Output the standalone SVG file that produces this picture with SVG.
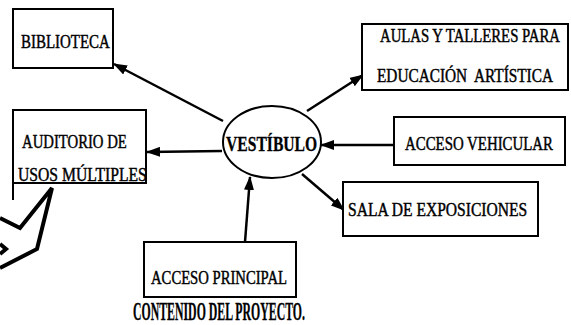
<svg xmlns="http://www.w3.org/2000/svg" width="571" height="325" viewBox="0 0 571 325">
<defs>
<marker id="ah" viewBox="0 0 14 10" refX="13" refY="5" markerWidth="14" markerHeight="10" markerUnits="userSpaceOnUse" orient="auto">
<path d="M0,0 L14,5 L0,10 Z" fill="#000"/>
</marker>
</defs>
<style>
.box{fill:#fff;stroke:#000;stroke-width:2}
.lbl{font-family:"Liberation Serif","Times New Roman",serif;font-size:19px;fill:#000;stroke:#000;stroke-width:0.45}
.vest{font-weight:bold;font-size:21px;stroke-width:0.3}
.title{font-weight:bold;font-size:25px;stroke-width:0.3}
.con{fill:none;stroke:#000;stroke-width:2.5}
.deco{fill:none;stroke:#000;stroke-width:4;stroke-linejoin:miter}
</style>
<rect width="571" height="325" fill="#fff"/>
<g id="connectors">
<line class="con" x1="223" y1="121" x2="114" y2="64" marker-end="url(#ah)"/>
<line class="con" x1="222" y1="151" x2="147" y2="152" marker-end="url(#ah)"/>
<line class="con" x1="307" y1="111" x2="363" y2="75" marker-end="url(#ah)"/>
<line class="con" x1="393" y1="145" x2="321" y2="145" marker-end="url(#ah)"/>
<line class="con" x1="245" y1="242" x2="250" y2="177" marker-end="url(#ah)"/>
<line class="con" x1="302" y1="174" x2="344" y2="210" marker-end="url(#ah)"/>
</g>
<g id="decor">
<polyline class="deco" points="0,218 20,228 52,188 37,249 0,268"/>
<polyline class="deco" points="0,244 6,249 0,254"/>
</g>
<g id="biblioteca">
<rect class="box" x="13" y="9" width="100" height="59"/>
<text class="lbl" transform="translate(21,48) scale(0.8,1)" textLength="111" lengthAdjust="spacingAndGlyphs">BIBLIOTECA</text>
</g>
<g id="auditorio">
<rect class="box" x="13" y="110" width="133" height="73"/>
<line x1="13" y1="183" x2="13" y2="200" stroke="#000" stroke-width="2"/>
<text class="lbl" transform="translate(22,148) scale(0.8,1)" textLength="131" lengthAdjust="spacingAndGlyphs">AUDITORIO DE</text>
<text class="lbl" transform="translate(18,181) scale(0.8,1)" textLength="161" lengthAdjust="spacingAndGlyphs">USOS MÚLTIPLES</text>
</g>
<g id="aulas">
<rect class="box" x="362" y="24" width="206" height="66"/>
<text class="lbl" transform="translate(380,42) scale(0.8,1)" textLength="225" lengthAdjust="spacingAndGlyphs">AULAS Y TALLERES PARA</text>
<text class="lbl" transform="translate(377,82) scale(0.8,1)" xml:space="preserve" textLength="220" lengthAdjust="spacingAndGlyphs">EDUCACIÓN  ARTÍSTICA</text>
</g>
<g id="vestibulo">
<ellipse cx="272" cy="142" rx="49" ry="36" fill="#fff" stroke="#000" stroke-width="2"/>
<text class="lbl vest" transform="translate(226,151) scale(0.8,1)" textLength="114" lengthAdjust="spacingAndGlyphs">VESTÍBULO</text>
</g>
<g id="acceso-vehicular">
<rect class="box" x="394" y="117" width="171" height="48"/>
<text class="lbl" transform="translate(405,150) scale(0.8,1)" textLength="185" lengthAdjust="spacingAndGlyphs">ACCESO VEHICULAR</text>
</g>
<g id="sala">
<rect class="box" x="343" y="182" width="195" height="54"/>
<text class="lbl" transform="translate(348,216) scale(0.8,1)" textLength="224" lengthAdjust="spacingAndGlyphs">SALA DE EXPOSICIONES</text>
</g>
<g id="acceso-principal">
<rect class="box" x="144" y="242" width="152" height="55"/>
<text class="lbl" transform="translate(151,284) scale(0.8,1)" textLength="170" lengthAdjust="spacingAndGlyphs">ACCESO PRINCIPAL</text>
</g>
<g id="title">
<text class="lbl title" transform="translate(133,320) scale(0.8,1)" textLength="215" lengthAdjust="spacingAndGlyphs">CONTENIDO DEL PROYECTO.</text>
</g>
</svg>
